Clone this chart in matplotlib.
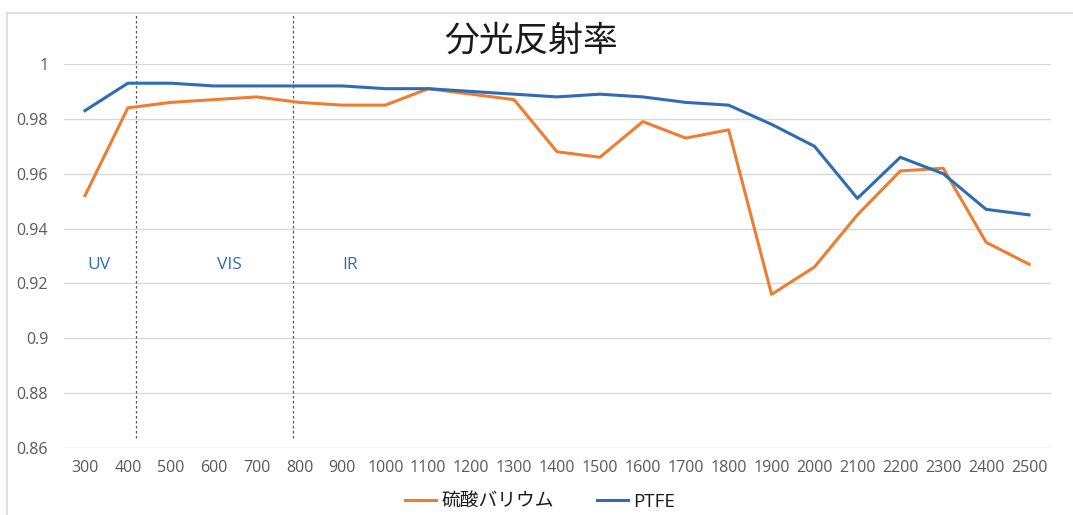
import matplotlib
matplotlib.use("Agg")
import matplotlib.pyplot as plt
from matplotlib.lines import Line2D

plt.rcParams['font.family'] = ['Open Sans', 'Noto Sans CJK JP', 'DejaVu Sans']

wavelengths = [300, 400, 500, 600, 700, 800, 900, 1000, 1100, 1200, 1300, 1400,
               1500, 1600, 1700, 1800, 1900, 2000, 2100, 2200, 2300, 2400, 2500]
baso4 = [0.952, 0.984, 0.986, 0.987, 0.988, 0.986, 0.985, 0.985, 0.991, 0.989, 0.987, 0.968,
         0.966, 0.979, 0.973, 0.976, 0.916, 0.926, 0.945, 0.961, 0.962, 0.935, 0.927]
ptfe = [0.983, 0.993, 0.993, 0.992, 0.992, 0.992, 0.992, 0.991, 0.991, 0.990, 0.989, 0.988,
        0.989, 0.988, 0.986, 0.985, 0.978, 0.970, 0.951, 0.966, 0.960, 0.947, 0.945]
series_names = ['硫酸バリウム', 'PTFE']
yticks = [0.86, 0.88, 0.90, 0.92, 0.94, 0.96, 0.98, 1.0]
ytick_labels = ['0.86', '0.88', '0.9', '0.92', '0.94', '0.96', '0.98', '1']
region_labels = ['UV', 'VIS', 'IR']
region_label_x = [333, 636, 918]
region_bounds = [419, 785]

W, H = 1073, 515
fig = plt.figure(figsize=(W / 100, H / 100), dpi=100)
ax = fig.add_axes([63.5 / W, (H - 448) / H, 987 / W, 384 / H])

orange = '#ED7D31'
blue = '#2E6DB4'
ax.plot(wavelengths, baso4, color=orange, lw=2.2, label=series_names[0])
ax.plot(wavelengths, ptfe, color=blue, lw=2.2, label=series_names[1])

ax.set_xlim(250, 2550)
ax.set_ylim(0.86, 1.0)
ax.set_yticks(yticks)
ax.set_yticklabels(ytick_labels)
ax.set_xticks(wavelengths)
ax.set_xticklabels([str(w) for w in wavelengths])
ax.tick_params(axis='both', length=0, labelsize=11.5, colors='#595959')
ax.tick_params(axis='y', pad=11)
ax.tick_params(axis='x', pad=9)
for s in ax.spines.values():
    s.set_visible(False)
ax.yaxis.grid(True, color='#D9D9D9', lw=1)
ax.set_axisbelow(True)

for xb in region_bounds:
    ax.plot([xb, xb], [0.8637, 1.0186], color='#555555', lw=0.9,
            ls=(0, (2, 2)), clip_on=False, zorder=1)

for lab, xl in zip(region_labels, region_label_x):
    ax.text(xl, 0.9268, lab, color=blue, fontsize=12.5, ha='center', va='center')

# chart frame
fig.add_artist(Line2D([7 / W, 1.0], [1 - 13 / H, 1 - 13 / H], color='#D9D9D9', lw=1.2,
                      transform=fig.transFigure))
fig.add_artist(Line2D([7 / W, 7 / W], [0, 1 - 13 / H], color='#D9D9D9', lw=1.2,
                      transform=fig.transFigure))

fig.text(531 / W, 1 - 41 / H, '分光反射率', fontsize=25, ha='center', va='center',
         color='#1a1a1a', family=['Noto Sans CJK JP', 'DejaVu Sans'])

fig.legend(loc='center', bbox_to_anchor=(540 / W, 1 - 502 / H), ncol=2, frameon=False,
           fontsize=13.5, handlelength=1.65, columnspacing=2.3, handletextpad=0.3,
           labelcolor='#1a1a1a')

fig.savefig('out.png', dpi=100, facecolor='white')
